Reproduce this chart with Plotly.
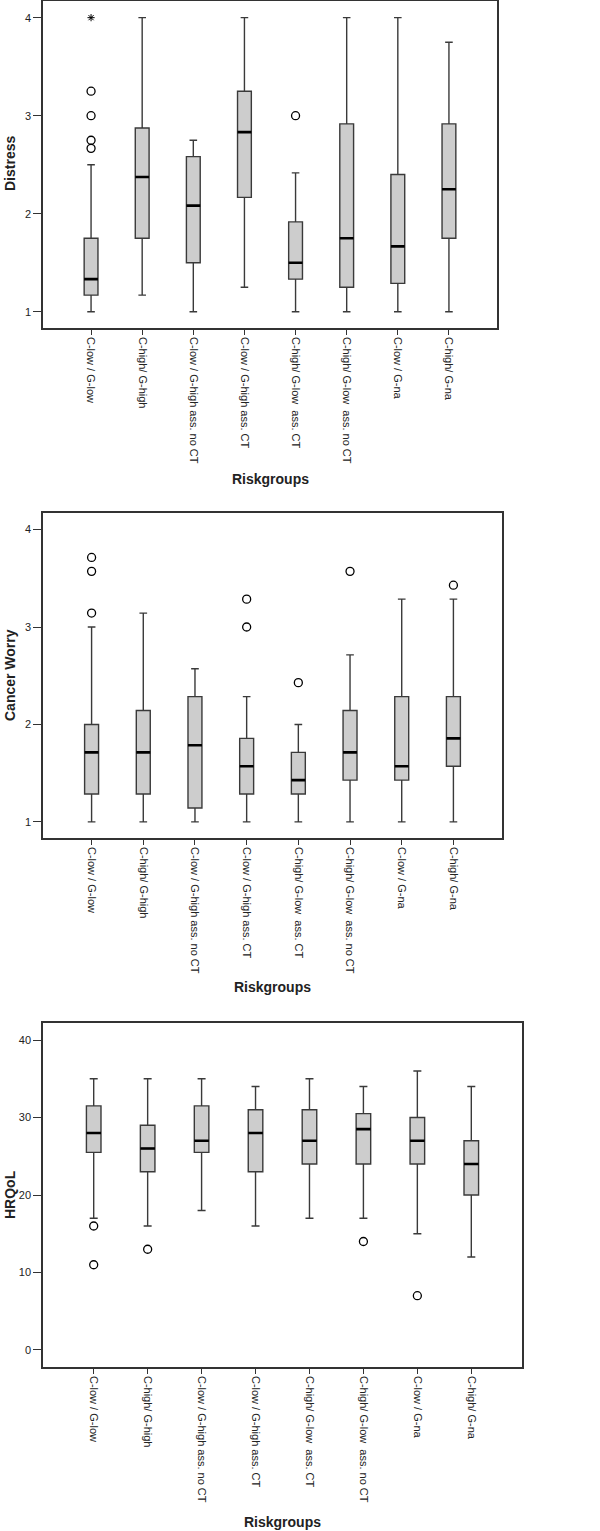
import plotly.graph_objects as go

categories = ["C-low / G-low", "C-high/ G-high", "C-low / G-high ass. no CT", "C-low / G-high ass. CT",
              "C-high/ G-low  ass. CT", "C-high/ G-low  ass. no CT", "C-low / G-na", "C-high/ G-na"]

# Distress
d_low = [1.0, 1.17, 1.0, 1.25, 1.0, 1.0, 1.0, 1.0]
d_q1 = [1.17, 1.75, 1.5, 2.167, 1.333, 1.25, 1.29, 1.75]
d_med = [1.333, 2.375, 2.083, 2.833, 1.5, 1.75, 1.667, 2.25]
d_q3 = [1.75, 2.875, 2.583, 3.25, 1.917, 2.917, 2.4, 2.917]
d_up = [2.5, 4.0, 2.75, 4.0, 2.417, 4.0, 4.0, 3.75]
d_out_x = [categories[0]] * 4 + [categories[4]]
d_out_y = [2.667, 2.75, 3.0, 3.25, 3.0]
d_ext_x = [categories[0]]
d_ext_y = [4.0]

# Cancer Worry
c_low = [1.0, 1.0, 1.0, 1.0, 1.0, 1.0, 1.0, 1.0]
c_q1 = [1.286, 1.286, 1.143, 1.286, 1.286, 1.429, 1.429, 1.571]
c_med = [1.714, 1.714, 1.786, 1.571, 1.429, 1.714, 1.571, 1.857]
c_q3 = [2.0, 2.143, 2.286, 1.857, 1.714, 2.143, 2.286, 2.286]
c_up = [3.0, 3.143, 2.571, 2.286, 2.0, 2.714, 3.286, 3.286]
c_out_x = [categories[0]] * 3 + [categories[3]] * 2 + [categories[4], categories[5], categories[7]]
c_out_y = [3.143, 3.571, 3.714, 3.0, 3.286, 2.429, 3.571, 3.429]

# HRQoL
h_low = [17, 16, 18, 16, 17, 17, 15, 12]
h_q1 = [25.5, 23, 25.5, 23, 24, 24, 24, 20]
h_med = [28, 26, 27, 28, 27, 28.5, 27, 24]
h_q3 = [31.5, 29, 31.5, 31, 31, 30.5, 30, 27]
h_up = [35, 35, 35, 34, 35, 34, 36, 34]
h_out_x = [categories[0], categories[0], categories[1], categories[5], categories[6]]
h_out_y = [16, 11, 13, 14, 7]

panels = [
    dict(low=d_low, q1=d_q1, med=d_med, q3=d_q3, up=d_up, ox=d_out_x, oy=d_out_y,
         title="Distress", yr=[0.835, 4.17], tv=[1, 2, 3, 4]),
    dict(low=c_low, q1=c_q1, med=c_med, q3=c_q3, up=c_up, ox=c_out_x, oy=c_out_y,
         title="Cancer Worry", yr=[0.835, 4.17], tv=[1, 2, 3, 4]),
    dict(low=h_low, q1=h_q1, med=h_med, q3=h_q3, up=h_up, ox=h_out_x, oy=h_out_y,
         title="HRQoL", yr=[-2.2, 42.2], tv=[0, 10, 20, 30, 40]),
]

W, H = 600, 1531
frames = [(43, 497, 1, 328), (43, 502, 513, 838), (43, 522, 1023, 1367)]
xlab_y = [479, 987, 1522]
ytitle_y = [164, 675, 1195]

FONT = "Liberation Sans, Arial, sans-serif"
fig = go.Figure()
layout = dict(width=W, height=H, margin=dict(l=0, r=0, t=0, b=0),
              paper_bgcolor="white", plot_bgcolor="white", showlegend=False,
              font=dict(family=FONT, color="#222", size=11))
annotations = []

for i, p in enumerate(panels):
    sfx = "" if i == 0 else str(i + 1)
    xa, ya = "x" + sfx, "y" + sfx
    fig.add_trace(go.Box(x=categories, q1=p["q1"], median=p["med"], q3=p["q3"],
                         lowerfence=p["low"], upperfence=p["up"],
                         width=0.27, whiskerwidth=0.55, fillcolor="#cdcdcd",
                         line=dict(color="#3a3a3a", width=1.4), boxpoints=False,
                         xaxis=xa, yaxis=ya, hoverinfo="skip"))
    fig.add_trace(go.Box(x=categories, q1=p["med"], median=p["med"], q3=p["med"],
                         lowerfence=p["med"], upperfence=p["med"],
                         width=0.27, whiskerwidth=0.0, fillcolor="rgba(0,0,0,0)",
                         line=dict(color="black", width=2.6), boxpoints=False,
                         xaxis=xa, yaxis=ya, hoverinfo="skip"))
    fig.add_trace(go.Scatter(x=p["ox"], y=p["oy"], mode="markers",
                             marker=dict(symbol="circle-open", size=8, color="black",
                                         line=dict(width=1.3, color="black")),
                             xaxis=xa, yaxis=ya, hoverinfo="skip"))
    if i == 0:
        fig.add_trace(go.Scatter(x=d_ext_x, y=d_ext_y, mode="markers",
                                 marker=dict(symbol="asterisk-open", size=6, color="black",
                                             line=dict(width=1.0, color="black")),
                                 xaxis=xa, yaxis=ya, hoverinfo="skip"))
    x0, x1, y0, y1 = frames[i]
    layout["xaxis" + sfx] = dict(domain=[x0 / W, x1 / W], anchor=ya, type="category",
                                 categoryorder="array", categoryarray=categories,
                                 range=[-0.94, 7.94], tickangle=90, ticks="outside",
                                 ticklen=5, tickcolor="#333", showline=True, mirror=True,
                                 linecolor="#333", linewidth=1.5, showgrid=False,
                                 tickfont=dict(size=11, color="#222"))
    layout["yaxis" + sfx] = dict(domain=[1 - y1 / H, 1 - y0 / H], anchor=xa,
                                 range=p["yr"], tickvals=p["tv"], ticks="outside",
                                 ticklen=8, tickcolor="#333", showline=True, mirror=True,
                                 linecolor="#333", linewidth=1.5, showgrid=False,
                                 zeroline=False, tickfont=dict(size=11, color="#222"))
    annotations.append(dict(text="<b>Riskgroups</b>", x=(x0 + x1) / 2 / W, y=1 - xlab_y[i] / H,
                            xref="paper", yref="paper", showarrow=False,
                            xanchor="center", yanchor="middle",
                            font=dict(size=14, color="#222", family=FONT)))
    annotations.append(dict(text="<b>" + p["title"] + "</b>", x=10 / W, y=1 - ytitle_y[i] / H,
                            xref="paper", yref="paper", showarrow=False, textangle=-90,
                            xanchor="center", yanchor="middle",
                            font=dict(size=14, color="#222", family=FONT)))

layout["annotations"] = annotations
fig.update_layout(**layout)
fig.write_html("out.html", config={"displayModeBar": False},
               post_script="document.body.style.margin='0';document.body.style.padding='0';")
